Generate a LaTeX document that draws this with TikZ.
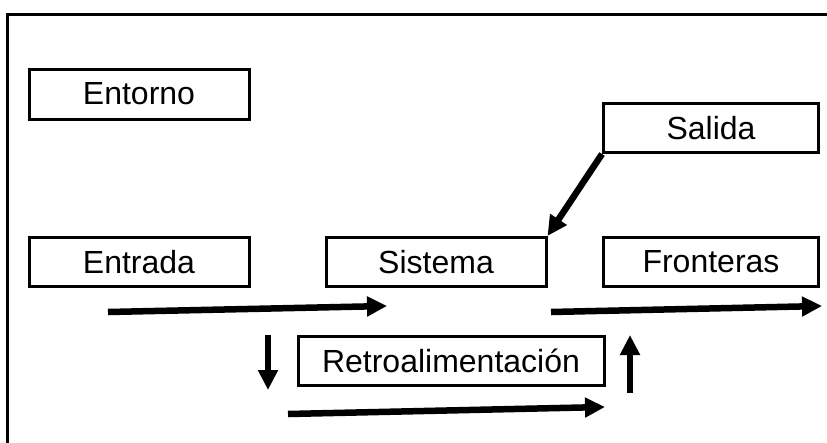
\documentclass[tikz,border=0pt]{standalone}
\usepackage{fontspec}
\setmainfont{Liberation Sans}
\usetikzlibrary{arrows.meta}
\begin{document}
\begin{tikzpicture}[x=1pt,y=-1pt,
  box/.style={draw,line width=3pt,inner sep=0pt,font=\fontsize{32}{33}\selectfont},
  arr/.style={line width=6.5pt,-{Triangle[length=20pt,width=19pt]}},
  varr/.style={line width=6pt,-{Triangle[length=20pt,width=19pt]}}]
\useasboundingbox (0,0) rectangle (827,442);
\fill[white] (0,0) rectangle (827,442);
\draw[line width=3pt] (7.5,445) -- (7.5,14.5) -- (830,14.5);
\node[box,minimum width=220pt,minimum height=50pt] (ent) at (139,94) {Entorno};
\node[box,minimum width=215pt,minimum height=49pt] (sal) at (711,128) {Salida};
\node[box,minimum width=220pt,minimum height=49pt] (entr) at (139,262) {Entrada};
\node[box,minimum width=220pt,minimum height=49pt] (sis) at (436,262) {Sistema};
\node[box,minimum width=215pt,minimum height=49pt] (fro) at (711,262) {Fronteras};
\node[box,minimum width=306pt,minimum height=49pt] (ret) at (451,361) {Retroalimentación};
\coordinate (a1s) at (108,312);
\coordinate (a1e) at (387,306);
\coordinate (a2s) at (551,312);
\coordinate (a2e) at (822,306);
\coordinate (a3s) at (288,414);
\coordinate (a3e) at (605,407);
\coordinate (d1) at (268,335);
\coordinate (d2) at (268,390);
\coordinate (u1) at (630,393);
\coordinate (u2) at (630,335);
\draw[arr] (a1s) -- (a1e);
\draw[arr] (a2s) -- (a2e);
\draw[arr] (a3s) -- (a3e);
\draw[varr] (d1) -- (d2);
\draw[varr] (u1) -- (u2);
\draw[arr] (sal.south west) -- (sis.north east);
\end{tikzpicture}
\end{document}
